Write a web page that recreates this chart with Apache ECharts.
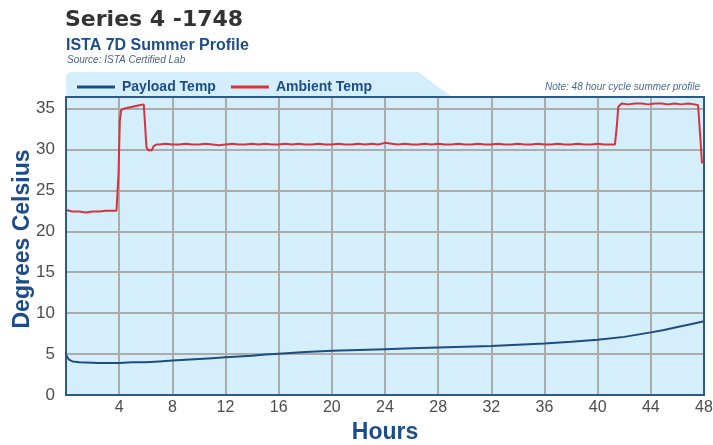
<!DOCTYPE html>
<html>
<head>
<meta charset="utf-8">
<script src="https://cdn.jsdelivr.net/npm/echarts@6/dist/echarts.min.js"></script>
<style>
html,body{margin:0;padding:0;background:#fff;}
#c{width:713px;height:445px;}
</style>
</head>
<body>
<div id="c"></div>
<script>
// ---- data ----
const titleText = 'Series 4 -1748';
const subtitleText = 'ISTA 7D Summer Profile';
const sourceText = 'Source: ISTA Certified Lab';
const noteText = 'Note: 48 hour cycle summer profile';
const seriesNames = ['Payload Temp', 'Ambient Temp'];
const xTicks = [4, 8, 12, 16, 20, 24, 28, 32, 36, 40, 44, 48];
const yTicks = [0, 5, 10, 15, 20, 25, 30, 35];

const payloadHours = [0, 0.1, 0.25, 0.5, 1, 2, 2.4, 3, 4, 5, 6, 7, 8, 9, 10, 11, 12, 13, 14, 15, 16, 18, 20, 22, 24, 26, 28, 30, 32, 34, 36, 38, 40, 42, 44, 45, 46, 47, 48];
const payloadTemp  = [5.0, 4.6, 4.3, 4.1, 4.0, 3.95, 3.9, 3.9, 3.9, 4.0, 4.0, 4.1, 4.2, 4.3, 4.4, 4.5, 4.6, 4.7, 4.8, 4.95, 5.05, 5.25, 5.4, 5.5, 5.6, 5.7, 5.8, 5.9, 6.0, 6.15, 6.3, 6.5, 6.75, 7.1, 7.65, 7.95, 8.3, 8.65, 9.0];

const ambientHours = [0, 0.25, 0.5, 1, 1.5, 2, 2.5, 3, 3.5, 3.8, 3.95, 4.05, 4.15, 4.4, 5, 5.5, 5.85, 5.95, 6.05, 6.2, 6.35, 6.45, 6.6, 6.8,
  7, 7.5, 8, 8.5, 9, 9.5, 10, 10.5, 11, 11.5, 12, 12.5, 13, 13.5, 14, 14.5, 15, 15.5, 16, 16.5, 17, 17.5, 18, 18.5, 19, 19.5,
  20, 20.5, 21, 21.5, 22, 22.5, 23, 23.5, 24, 24.5, 25, 25.5, 26, 26.5, 27, 27.5, 28, 28.5, 29, 29.5,
  30, 30.5, 31, 31.5, 32, 32.5, 33, 33.5, 34, 34.5, 35, 35.5, 36, 36.5, 37, 37.5, 38, 38.5, 39, 39.5,
  40, 40.5, 41, 41.3, 41.45, 41.55, 41.8, 42.3, 42.8, 43.3, 43.8, 44.3, 44.8, 45.3, 45.8, 46.3, 46.8, 47.3, 47.55, 47.7, 47.85];
const ambientTemp = [22.6, 22.5, 22.4, 22.4, 22.3, 22.4, 22.4, 22.5, 22.5, 22.5, 27.0, 33.5, 34.8, 35.0, 35.2, 35.4, 35.5, 33.0, 30.3, 29.9, 30.1, 29.9, 30.4, 30.6,
  30.6, 30.7, 30.6, 30.6, 30.7, 30.6, 30.6, 30.7, 30.6, 30.5, 30.6, 30.7, 30.6, 30.6, 30.7, 30.6, 30.7, 30.6, 30.6, 30.7, 30.6, 30.7, 30.6, 30.6, 30.7, 30.6,
  30.6, 30.7, 30.6, 30.6, 30.7, 30.6, 30.7, 30.6, 30.8, 30.7, 30.6, 30.7, 30.6, 30.6, 30.7, 30.6, 30.7, 30.6, 30.6, 30.7,
  30.6, 30.6, 30.7, 30.6, 30.6, 30.7, 30.6, 30.6, 30.7, 30.6, 30.6, 30.7, 30.6, 30.6, 30.7, 30.6, 30.6, 30.7, 30.6, 30.6,
  30.7, 30.6, 30.6, 30.6, 33.0, 35.2, 35.6, 35.5, 35.6, 35.6, 35.5, 35.6, 35.6, 35.5, 35.6, 35.5, 35.6, 35.5, 35.4, 32.0, 28.3];

const payloadData = payloadHours.map((h, i) => [h, payloadTemp[i]]);
const ambientData = ambientHours.map((h, i) => [h, ambientTemp[i]]);

// ---- styles ----
const BLUE_TEXT = '#1c4d8a';
const PLOT_BG = '#d5eefb';
const BORDER = '#2b5a8c';
const GRIDLINE = '#ababab';
const PAYLOAD = '#1d4c80';
const AMBIENT = '#d8323c';
const LABEL = '#4d4d4d';

const chart = echarts.init(document.getElementById('c'), null, {renderer: 'canvas'});

const option = {
  animation: false,
  backgroundColor: '#ffffff',
  title: [
    {text: titleText, left: 65, top: 9, padding: 0, textStyle: {fontFamily: 'DejaVu Sans', fontWeight: 'bold', fontSize: 22, color: '#333333'}},
    {text: subtitleText, left: 66, top: 38, padding: 0, textStyle: {fontFamily: 'Liberation Sans', fontWeight: 'bold', fontSize: 16, color: BLUE_TEXT}},
    {text: sourceText, left: 67, top: 55, padding: 0, textStyle: {fontFamily: 'Liberation Sans', fontStyle: 'italic', fontWeight: 'normal', fontSize: 10, color: '#4a6480'}},
    {text: noteText, right: 13, top: 82, padding: 0, textStyle: {fontFamily: 'Liberation Sans', fontStyle: 'italic', fontWeight: 'normal', fontSize: 10, color: '#4a6a95'}}
  ],
  legend: {
    left: 77, top: 80, padding: 0,
    itemWidth: 38, itemHeight: 3, itemGap: 15,
    icon: 'rect',
    data: seriesNames,
    textStyle: {fontFamily: 'Liberation Sans', fontWeight: 'bold', fontSize: 14, color: BLUE_TEXT, padding: [0, 0, 0, 2]}
  },
  grid: {
    left: 66, right: 9, top: 97, bottom: 50,
    outerBoundsMode: 'none', containLabel: false,
    show: true, backgroundColor: PLOT_BG, borderWidth: 0
  },
  xAxis: {
    type: 'value', min: 0, max: 48, interval: 4,
    name: 'Hours', nameLocation: 'middle', nameGap: 26, nameMoveOverlap: false,
    nameTextStyle: {fontFamily: 'Liberation Sans', fontWeight: 'bold', fontSize: 23, color: BLUE_TEXT},
    axisLine: {show: false}, axisTick: {show: false},
    axisLabel: {
      margin: 5, fontFamily: 'Liberation Sans Narrow, Liberation Sans', fontSize: 16, color: LABEL,
      formatter: v => xTicks.indexOf(v) >= 0 ? String(v) : ''
    },
    splitLine: {show: true, lineStyle: {color: GRIDLINE, width: 2}}
  },
  yAxis: {
    type: 'value', min: 0, max: 36.4, interval: 5,
    name: 'Degrees Celsius', nameLocation: 'middle', nameGap: 32, nameMoveOverlap: false,
    nameTextStyle: {fontFamily: 'Liberation Sans', fontWeight: 'bold', fontSize: 23, color: BLUE_TEXT, padding: [0, 0, 0, 14]},
    axisLine: {show: false}, axisTick: {show: false},
    axisLabel: {
      margin: 11, fontFamily: 'Liberation Sans Narrow, Liberation Sans', fontSize: 17, color: LABEL,
      formatter: v => yTicks.indexOf(v) >= 0 ? String(v) : ''
    },
    splitLine: {show: true, lineStyle: {color: GRIDLINE, width: 2}}
  },
  series: [
    {name: seriesNames[0], type: 'line', data: payloadData, showSymbol: false, symbol: 'none',
     lineStyle: {color: PAYLOAD, width: 2}, itemStyle: {color: PAYLOAD}, z: 3},
    {name: seriesNames[1], type: 'line', data: ambientData, showSymbol: false, symbol: 'none',
     lineStyle: {color: AMBIENT, width: 2}, itemStyle: {color: AMBIENT}, z: 4}
  ]
};
chart.setOption(option);

// border + legend tab derived from the grid's pixel rectangle
const p0 = chart.convertToPixel({gridIndex: 0}, [0, 0]);
const p1 = chart.convertToPixel({gridIndex: 0}, [48, 36.4]);
const gx = p0[0], gy = p1[1], gw = p1[0] - p0[0], gh = p0[1] - p1[1];
chart.setOption({
  graphic: [
    {type: 'polygon', z: -1, silent: true,
     shape: {points: [[gx, gy], [gx, gy - 20], [gx + 1.5, gy - 23.5], [gx + 5, gy - 25], [gx + 352, gy - 25], [gx + 386, gy]]},
     style: {fill: PLOT_BG, stroke: null}},
    {type: 'rect', z: 100, silent: true,
     shape: {x: gx, y: gy, width: gw, height: gh},
     style: {fill: null, stroke: BORDER, lineWidth: 2}}
  ]
});
</script>
</body>
</html>
